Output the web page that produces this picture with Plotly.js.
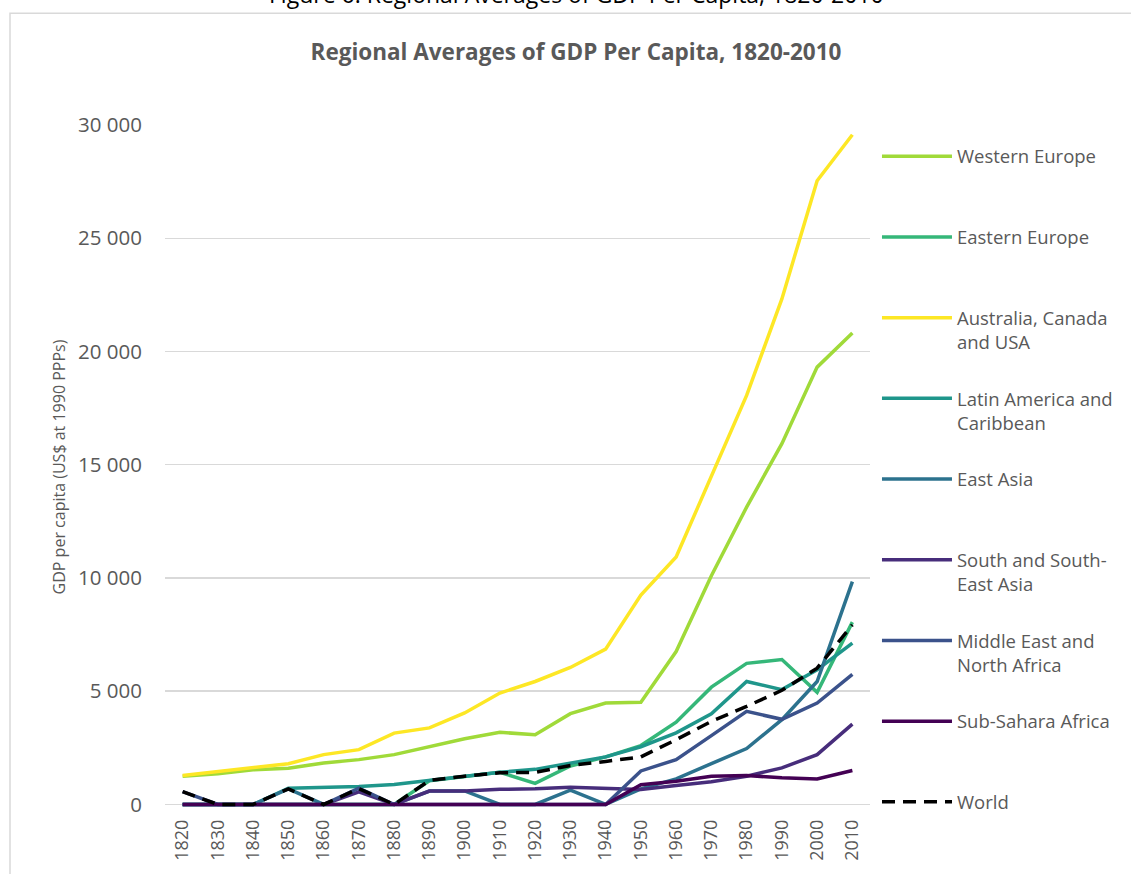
<!DOCTYPE html>
<html>
<head>
<meta charset="utf-8">
<script src="https://cdn.plot.ly/plotly-3.0.1.min.js"></script>
<style>
  html, body { margin: 0; padding: 0; background: #ffffff; }
  #chart { width: 1131px; height: 874px; }
</style>
</head>
<body>
<div id="chart"></div>
<script>
// Decades covered by the series
const years = [1820, 1830, 1840, 1850, 1860, 1870, 1880, 1890, 1900, 1910,
               1920, 1930, 1940, 1950, 1960, 1970, 1980, 1990, 2000, 2010];

// GDP per capita, US$ at 1990 PPPs (missing decades are plotted as 0)
const westernEurope = [1250, 1360, 1530, 1600, 1835, 1980, 2200, 2540, 2900, 3185,
                       3080, 4010, 4480, 4510, 6750, 10100, 13130, 15930, 19310, 20820];
const easternEurope = [0, 0, 0, 0, 0, 0, 0, 1050, 1250, 1420,
                       930, 1700, 2100, 2600, 3630, 5180, 6230, 6400, 4950, 8050];
const ausCanUsa     = [1280, 1450, 1620, 1800, 2200, 2420, 3150, 3380, 4040, 4920,
                       5430, 6050, 6860, 9250, 10930, 14530, 18060, 22320, 27540, 29570];
const latinAmerica  = [0, 0, 0, 720, 740, 790, 880, 1050, 1250, 1420,
                       1550, 1830, 2100, 2550, 3160, 4000, 5430, 5070, 5950, 7120];
const eastAsia      = [0, 0, 0, 690, 0, 0, 0, 590, 600, 0,
                       0, 630, 0, 690, 1130, 1800, 2470, 3745, 5430, 9840];
const southAsia     = [0, 0, 0, 0, 0, 560, 0, 590, 590, 670,
                       690, 760, 720, 660, 840, 1000, 1250, 1615, 2200, 3550];
const menaRegion    = [570, 0, 0, 0, 0, 720, 0, 0, 0, 0,
                       0, 0, 0, 1480, 1980, 3040, 4110, 3760, 4480, 5740];
const subSahara     = [0, 0, 0, 0, 0, 0, 0, 0, 0, 0,
                       0, 0, 0, 870, 1030, 1250, 1280, 1175, 1130, 1500];
const world         = [570, 0, 0, 690, 0, 700, 0, 1060, 1250, 1400,
                       1420, 1720, 1900, 2100, 2860, 3670, 4330, 5040, 6020, 7930];

const regionNames = ["Western Europe", "Eastern Europe", "Australia, Canada<br>and USA",
                     "Latin America and<br>Caribbean", "East Asia", "South and South-<br>East Asia",
                     "Middle East and<br>North Africa", "Sub-Sahara Africa", "World"];
const regionValues = [westernEurope, easternEurope, ausCanUsa, latinAmerica, eastAsia,
                      southAsia, menaRegion, subSahara, world];
const regionColors = ["#a0da39", "#35b779", "#fde725", "#1f968b", "#2c728e",
                      "#472d7b", "#3b528b", "#440154", "#000000"];

const FONT = "Open Sans, Noto Sans, sans-serif";
const GREY = "#595959";

// every legend entry takes two text lines so the entries are evenly spaced
const traces = regionNames.map((name, i) => ({
  type: "scatter",
  mode: "lines",
  x: years,
  y: regionValues[i],
  name: name.includes("<br>") ? name : name + "<br>\u00a0",
  legendgroup: "g" + i,
  line: {
    color: regionColors[i],
    width: 3.5,
    dash: name === "World" ? "13px,8px" : "solid"
  },
  hoverinfo: "x+y+name"
}));

const layout = {
  width: 1131,
  height: 874,
  paper_bgcolor: "#ffffff",
  plot_bgcolor: "#ffffff",
  separators: ". ",
  font: { family: FONT, color: GREY },
  margin: { l: 165, r: 261, t: 125, b: 64.5, autoexpand: false },
  title: {
    text: "<b>Regional Averages of GDP Per Capita, 1820-2010</b>",
    font: { family: FONT, size: 22.5, color: GREY },
    x: 576 / 1131,
    xref: "container",
    xanchor: "center",
    y: 1 - 52 / 874,
    yref: "container",
    yanchor: "middle"
  },
  xaxis: {
    type: "linear",
    range: [1815, 2015],
    tickvals: years,
    tickformat: "d",
    tickangle: -90,
    ticks: "",
    ticklabelstandoff: 6,
    showgrid: false,
    zeroline: false,
    showline: false,
    tickfont: { family: FONT, size: 18, color: GREY },
    automargin: false
  },
  yaxis: {
    range: [-200, 30000],
    dtick: 5000,
    tick0: 0,
    tickformat: ",d",
    ticks: "",
    ticklabelstandoff: 22,
    showgrid: true,
    gridcolor: "#d9d9d9",
    gridwidth: 1.5,
    zeroline: false,
    showline: false,
    tickfont: { family: FONT, size: 20.5, color: GREY },
    title: {
      text: "GDP per capita (US$ at 1990 PPPs)",
      font: { family: FONT, size: 16, color: GREY },
      standoff: 8
    },
    automargin: false
  },
  legend: {
    x: 1.0099,
    xanchor: "left",
    y: 0.9814,
    yanchor: "top",
    traceorder: "grouped",
    tracegroupgap: 29.6,
    itemwidth: 70,
    valign: "top",
    font: { family: FONT, size: 18.5, color: GREY },
    bgcolor: "rgba(0,0,0,0)"
  },
  annotations: [{
    text: "Figure 6: Regional Averages of GDP Per Capita, 1820-2010",
    xref: "paper",
    yref: "paper",
    x: (576 - 165) / 705,
    y: 1 + (125 + 5) / 680,
    xanchor: "center",
    yanchor: "middle",
    showarrow: false,
    font: { family: FONT, size: 23, color: "#000000" }
  }],
  shapes: [{
    // outer chart frame
    type: "rect",
    xref: "paper",
    yref: "paper",
    x0: (10 - 165) / 705,
    x1: 1.6,
    y0: -0.5,
    y1: (805 - 14) / 680,
    line: { color: "#d9d9d9", width: 1.5 },
    fillcolor: "rgba(0,0,0,0)",
    layer: "below"
  }],
  showlegend: true
};

Plotly.newPlot("chart", traces, layout, { displayModeBar: false, staticPlot: true });
</script>
</body>
</html>
